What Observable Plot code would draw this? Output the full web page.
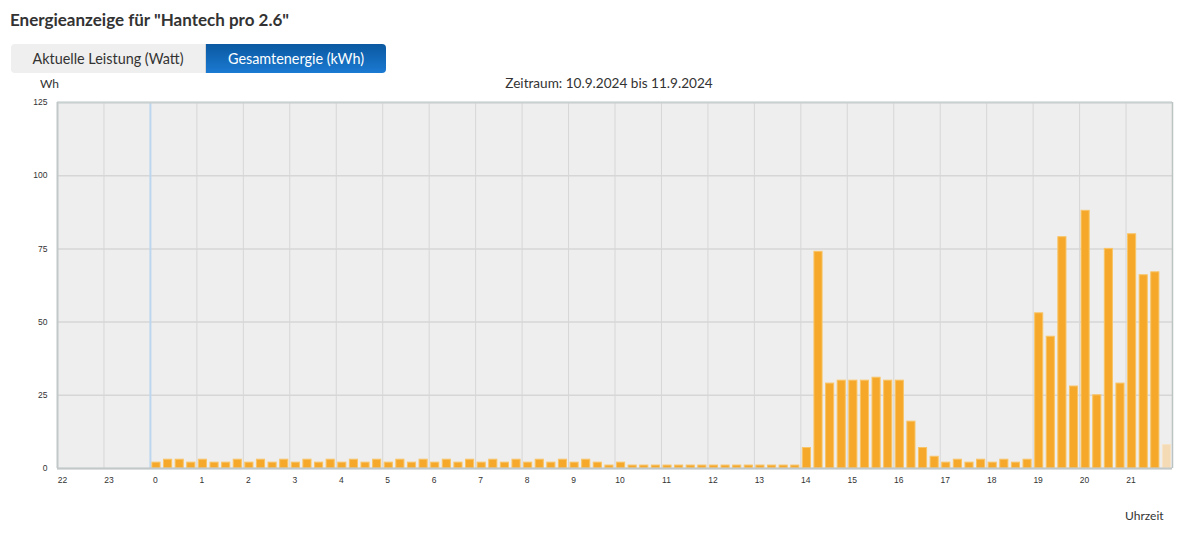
<!DOCTYPE html>
<html><head><meta charset="utf-8">
<script src="https://cdn.jsdelivr.net/npm/d3@7"></script>
<script src="https://cdn.jsdelivr.net/npm/@observablehq/plot@0.6"></script>
<style>
html,body{margin:0;padding:0;background:#fff;}
body{width:1188px;height:533px;position:relative;overflow:hidden;font-family:Lato,"Open Sans",sans-serif;color:#333;}
#title{position:absolute;left:10px;top:9px;font-size:17px;font-weight:bold;color:#333;white-space:nowrap;}
#tabs{position:absolute;left:11px;top:44px;height:29px;display:flex;}
.tab{height:29px;line-height:29px;font-size:14.4px;text-align:center;white-space:nowrap;}
#tab1{width:195px;background:#efefef;color:#333;border-radius:4px 0 0 4px;border-right:1px solid #d5d5d5;box-sizing:border-box;}
#tab2{width:180px;background:linear-gradient(#0a58a0,#1b7ad2);color:#fff;border-radius:0 4px 4px 0;}
#wh{position:absolute;left:40px;top:76px;font-size:12px;color:#333;}
#period{position:absolute;left:0;width:1218px;top:75px;text-align:center;font-size:13.6px;color:#333;}
#chart{position:absolute;left:0;top:95px;}
#xlabel{position:absolute;left:1125px;top:508px;font-size:12px;color:#333;}
</style>
</head><body>
<div id="title">Energieanzeige für "Hantech pro 2.6"</div>
<div id="tabs"><div class="tab" id="tab1">Aktuelle Leistung (Watt)</div><div class="tab" id="tab2">Gesamtenergie (kWh)</div></div>
<div id="wh">Wh</div>
<div id="period">Zeitraum: 10.9.2024 bis 11.9.2024</div>
<div id="chart"></div>
<div id="xlabel">Uhrzeit</div>
<script>
// Hour tick positions (hours relative to midnight of 11.9.2024) and their labels
const tickHours = [-2,-1,0,1,2,3,4,5,6,7,8,9,10,11,12,13,14,15,16,17,18,19,20,21];
const tickLabels = ["22","23","0","1","2","3","4","5","6","7","8","9","10","11","12","13","14","15","16","17","18","19","20","21"];
const yTicks = [0,25,50,75,100,125];
// Energy per 15-minute interval (Wh), starting at 0:00; last value is the running (partial) interval
const energyWh = [
  2,3,3,2,   3,2,2,3,   2,3,2,3,   2,3,2,3,   2,3,2,3,   2,3,2,3,
  2,3,2,3,   2,3,2,3,   2,3,2,3,   2,3,2,1,   2,1,1,1,   1,1,1,1,
  1,1,1,1,   1,1,1,1,   7,74,29,30, 30,30,31,30, 30,16,7,4, 2,3,2,3,
  2,3,2,3,   53,45,79,28, 88,25,75,29, 80,66,67,8
];

const rows = energyWh.map((v,i)=>({start:i/4, end:i/4+0.25, wh:v, partial:i===energyWh.length-1}));
const done = rows.filter(d=>!d.partial);
const partial = rows.filter(d=>d.partial);

const chart = Plot.plot({
  width:1188, height:400,
  marginTop:7, marginBottom:27, marginLeft:57, marginRight:16,
  x:{domain:[-2,22], axis:null},
  y:{domain:[0,125], axis:null},
  style:{fontFamily:"'Liberation Sans',Arial,sans-serif", fontSize:"8.5px", color:"#333", background:"transparent"},
  marks:[
    Plot.frame({fill:"#eeeeee", stroke:null}),
    Plot.ruleY(yTicks, {stroke:"#d6d6d6", strokeWidth:1.5}),
    Plot.ruleX(tickHours.filter(h=>h!==0 && h!==-2), {stroke:"#d6d6d6", strokeWidth:1}),
    Plot.ruleX([0], {stroke:"#bcd6f0", strokeWidth:2}),
    Plot.rectY(done, {x1:"start", x2:"end", y:"wh", fill:"#f5a82a", stroke:"#f8c466", strokeWidth:1, insetLeft:2, insetRight:1.5}),
    Plot.rectY(partial, {x1:"start", x2:"end", y:"wh", fill:"#f4dbb6", stroke:"#f7e4c8", strokeWidth:1, insetLeft:2, insetRight:1.5}),
    Plot.ruleY([125], {stroke:"#c8d0d0", strokeWidth:2}),
    Plot.ruleX([22], {stroke:"#bcc3c3", strokeWidth:1.5}),
    Plot.ruleX([-2], {stroke:"#c2c8c8", strokeWidth:2}),
    Plot.ruleY([0], {stroke:"#c2c8c8", strokeWidth:2}),
    Plot.axisX(tickHours, {tickSize:0, tickPadding:8, dx:5, tickFormat:(d,i)=>tickLabels[i], label:null}),
    Plot.axisY(yTicks, {tickSize:0, tickPadding:10, label:null})
  ]
});
document.getElementById("chart").appendChild(chart);
</script>
</body></html>
